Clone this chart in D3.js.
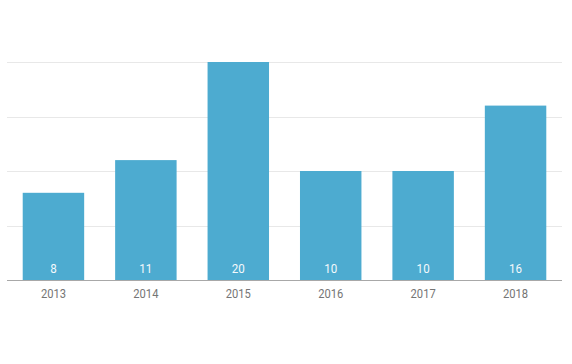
<!DOCTYPE html>
<html><head><meta charset="utf-8">
<script src="https://cdn.jsdelivr.net/npm/d3@7"></script>
<style>
body{margin:0;background:#fff;}
text{font-family:Roboto,"Noto Sans",sans-serif;}
</style></head>
<body><svg id="c" width="572" height="364"></svg>
<script>
const categories = ["2013","2014","2015","2016","2017","2018"];
const values = [8, 11, 20, 10, 10, 16];
const yTicks = [5, 10, 15, 20];

const svg = d3.select("#c");
const x = d3.scaleBand().domain(categories).range([7, 562]).paddingInner(0.335).paddingOuter(0.17);
const y = d3.scaleLinear().domain([0, 20]).range([280, 62]);

svg.append("g").selectAll("line").data(yTicks).join("line")
  .attr("x1", 7).attr("x2", 562)
  .attr("y1", d => Math.round(y(d)) + 0.5).attr("y2", d => Math.round(y(d)) + 0.5)
  .attr("stroke", "#e8e8e8").attr("stroke-width", 1);

svg.append("g").selectAll("rect").data(values).join("rect")
  .attr("x", (d, i) => x(categories[i]))
  .attr("width", x.bandwidth())
  .attr("y", d => y(d))
  .attr("height", d => y(0) - y(d))
  .attr("fill", "#4dabd0");

svg.append("g").selectAll("text").data(values).join("text")
  .attr("transform", (d, i) => `translate(${x(categories[i]) + x.bandwidth() / 2},273.3) scale(0.86,1)`)
  .attr("text-anchor", "middle")
  .attr("fill", "#f4f9fc")
  .attr("font-size", 13.5)
  .text(d => d);

const axis = d3.axisBottom(x).tickSize(0).tickPadding(9);
const g = svg.append("g").attr("transform", "translate(0,280)").call(axis);
g.select(".domain").attr("stroke", "#a8a8a8").attr("d", "M7,0.5H562");
g.selectAll(".tick text")
  .attr("y", 18.5).attr("dy", null)
  .attr("transform", "scale(0.86,1)")
  .attr("fill", "#757575").attr("font-size", 13).attr("font-family", "Roboto, sans-serif");
</script></body></html>
